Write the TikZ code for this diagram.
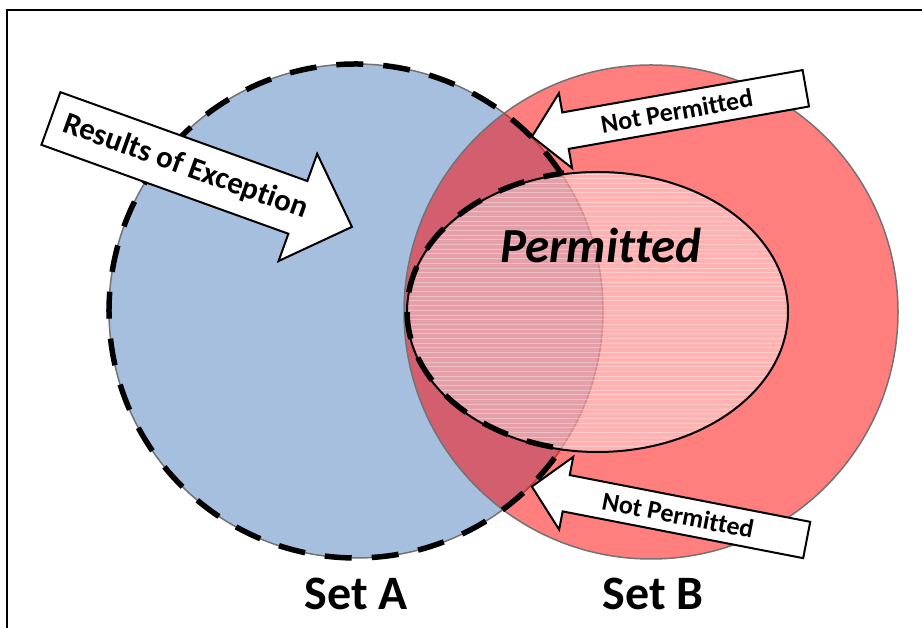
\documentclass[tikz,border=0pt]{standalone}
\usepackage{fontspec}
\setmainfont[Ligatures=NoCommon]{Carlito}

\definecolor{setblue}{RGB}{167,191,222}
\definecolor{rimgray}{RGB}{115,115,115}

\tikzset{
  setcircle/.style={draw=rimgray, line width=1.5pt},
  arrowbox/.style={draw=black, fill=white, line width=2pt, line join=miter},
  arrowtext/.style={font=\bfseries\fontsize{26}{30}\selectfont, inner sep=0pt},
  settext/.style={font=\bfseries\fontsize{48}{54}\selectfont}
}

% block arrow: name, tail middle, angle, length, half shaft, half head, head length, text spot
\newcommand{\blockarrow}[8]{%
  \begin{scope}[shift={#2}, rotate=#3]
    \draw[arrowbox] (0,-#5) -- ({#4-#7},-#5) -- ({#4-#7},-#6) -- (#4,0)
      -- ({#4-#7},#6) -- ({#4-#7},#5) -- (0,#5) -- cycle;
    \coordinate (#1) at (#8,0);
  \end{scope}}

\begin{document}
\begin{tikzpicture}[x=1pt,y=1pt]
\useasboundingbox (0,0) rectangle (922,628);
\draw[line width=1.2pt] (7,0) -- (7,618) -- (922,618);

% set A and set B
\filldraw[setcircle, fill=setblue] (356,317) circle[radius=247];
\filldraw[setcircle, fill=red, fill opacity=0.5] (651,316) circle[radius=247];

% permitted part, with light stripes
\fill[white, fill opacity=0.4] (597.5,316) ellipse[x radius=190.5, y radius=140];
\begin{scope}
  \clip (597.5,316) ellipse[x radius=190.5, y radius=140];
  \foreach \yy in {172,176.7,...,462}
    \draw[white, opacity=0.35, line width=0.8pt] (400,\yy) -- (800,\yy);
\end{scope}
\draw[line width=2pt] (597.5,316) ellipse[x radius=190.5, y radius=140];

% set A without the permitted part
\draw[line width=5.5pt, dash pattern=on 27pt off 20pt]
  ([shift={(33.8:247)}]356,317) arc[start angle=33.8, end angle=326.2, radius=247]
  arc[start angle=-101, end angle=-259, x radius=190.5, y radius=140] -- cycle;

% labels
\node[font=\bfseries\itshape\fontsize{49}{54}\selectfont] (permitted) at (601,383) {Permitted};
\node[settext] (seta) at (356,34) {Set A};
\node[settext] (setb) at (653,34) {Set B};

% block arrows
\blockarrow{results}{(50.9,509.5)}{-19.8}{320}{28}{57}{57.5}{143}
\node[arrowtext, font=\bfseries\fontsize{31}{35}\selectfont, rotate=-19.8] (resultstext) at (results) {Results of Exception};

\blockarrow{topmark}{(805.8,539.7)}{190}{278}{18.5}{38}{34}{131}
\node[arrowtext, rotate=10] (toptext) at (topmark) {Not Permitted};

\blockarrow{bottommark}{(806.7,88)}{169}{280}{18.5}{37}{35}{131}
\node[arrowtext, rotate=-11] (bottomtext) at (bottommark) {Not Permitted};
\end{tikzpicture}
\end{document}
